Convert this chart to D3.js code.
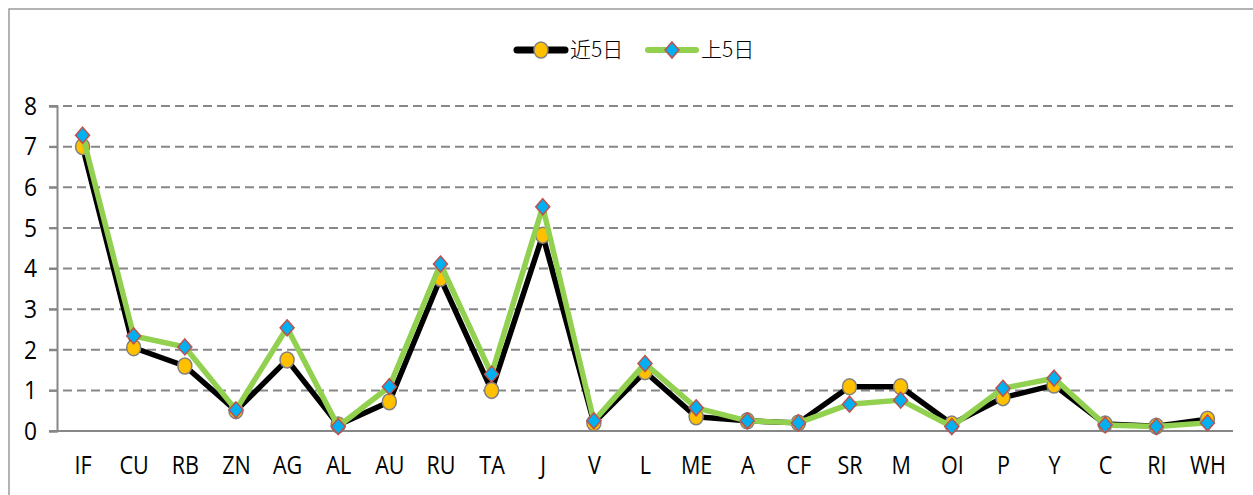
<!DOCTYPE html>
<meta charset="utf-8">
<style>

    body {
        margin: 0;
        background: #fff;
    }

    .grid line {
        stroke: #878787;
        stroke-width: 2px;
        stroke-dasharray: 9, 5;
    }

    .axis text {
        font-family: "Liberation Sans Narrow", "Open Sans", sans-serif;
        font-size: 24px;
        fill: #000;
    }

    .legend text {
        font-family: "Noto Sans CJK SC", sans-serif;
        font-size: 21px;
        font-weight: 300;
        fill: #000;
    }

</style>
<svg width="1253" height="495"></svg>
<script src="https://d3js.org/d3.v7.min.js"></script>
<script>

    var categories = ["IF", "CU", "RB", "ZN", "AG", "AL", "AU", "RU", "TA", "J", "V", "L",
        "ME", "A", "CF", "SR", "M", "OI", "P", "Y", "C", "RI", "WH"];

    // 近5日
    var recent = [7.0, 2.05, 1.6, 0.5, 1.75, 0.15, 0.72, 3.76, 1.0, 4.82, 0.2, 1.46,
        0.35, 0.25, 0.2, 1.09, 1.09, 0.17, 0.82, 1.13, 0.17, 0.12, 0.29];

    // 上5日
    var previous = [7.28, 2.34, 2.07, 0.52, 2.54, 0.11, 1.09, 4.11, 1.4, 5.52, 0.25, 1.66,
        0.57, 0.25, 0.2, 0.66, 0.76, 0.11, 1.05, 1.3, 0.15, 0.11, 0.2];

    var yTicks = [0, 1, 2, 3, 4, 5, 6, 7, 8];
    var seriesNames = ["近5日", "上5日"];

    var svg = d3.select("svg");

    // outer frame (right and bottom edges fall outside the picture)
    svg.append("rect")
        .attr("x", 9)
        .attr("y", 9)
        .attr("width", 1260)
        .attr("height", 500)
        .attr("fill", "none")
        .attr("stroke", "#9a9a9a")
        .attr("stroke-width", 1.5);

    var plotLeft = 57, plotRight = 1233, plotTop = 106, plotBottom = 431;

    var x = d3.scalePoint()
        .domain(categories)
        .range([plotLeft, plotRight])
        .padding(0.5);

    var y = d3.scaleLinear()
        .domain([0, 8])
        .range([plotBottom, plotTop]);

    // dashed gridlines
    svg.append("g")
        .attr("class", "grid")
        .selectAll("line")
        .data(yTicks.filter(function (d) { return d > 0; }))
        .enter().append("line")
        .attr("x1", plotLeft - 8)
        .attr("x2", plotRight)
        .attr("y1", function (d) { return y(d); })
        .attr("y2", function (d) { return y(d); });

    // y axis
    var yAxis = svg.append("g")
        .attr("class", "axis")
        .attr("transform", "translate(" + plotLeft + ",0)")
        .call(d3.axisLeft(y).tickValues(yTicks).tickSize(8).tickPadding(13).tickFormat(d3.format("d")));
    yAxis.select(".domain").attr("stroke", "#878787").attr("stroke-width", 2);
    yAxis.selectAll(".tick line").attr("stroke", "#878787").attr("stroke-width", 2);
    yAxis.selectAll(".tick text").attr("text-anchor", "middle").attr("x", -28)
        .attr("transform", "scale(0.95,1.08)");

    // x axis
    var xAxis = svg.append("g")
        .attr("class", "axis")
        .attr("transform", "translate(0," + plotBottom + ")")
        .call(d3.axisBottom(x).tickSize(0).tickPadding(24));
    xAxis.select(".domain").attr("d", "M" + (plotLeft - 8) + ",0H" + plotRight)
        .attr("stroke", "#878787").attr("stroke-width", 2);
    xAxis.selectAll(".tick text").attr("transform", "scale(0.9,1.05)");

    var line = d3.line()
        .x(function (d, i) { return x(categories[i]); })
        .y(function (d) { return y(d); });

    svg.append("path")
        .datum(recent)
        .attr("fill", "none")
        .attr("stroke", "#000")
        .attr("stroke-width", 5.5)
        .attr("stroke-linejoin", "round")
        .attr("d", line);

    svg.append("g")
        .selectAll("ellipse")
        .data(recent)
        .enter().append("ellipse")
        .attr("cx", function (d, i) { return x(categories[i]); })
        .attr("cy", function (d) { return y(d); })
        .attr("rx", 7)
        .attr("ry", 8)
        .attr("fill", "#FFC000")
        .attr("stroke", "#808080")
        .attr("stroke-width", 1.5);

    svg.append("path")
        .datum(previous)
        .attr("fill", "none")
        .attr("stroke", "#92D050")
        .attr("stroke-width", 5.5)
        .attr("stroke-linejoin", "round")
        .attr("d", line);

    var diamond = "M0,-8L7,0L0,8L-7,0Z";

    svg.append("g")
        .selectAll("path")
        .data(previous)
        .enter().append("path")
        .attr("d", diamond)
        .attr("transform", function (d, i) {
            return "translate(" + x(categories[i]) + "," + y(d) + ")";
        })
        .attr("fill", "#00B0F0")
        .attr("stroke", "#C0504D")
        .attr("stroke-width", 1.5);

    // legend
    var legend = svg.append("g").attr("class", "legend");
    var items = [
        {name: seriesNames[0], x0: 517, color: "#000", w: 7},
        {name: seriesNames[1], x0: 648, color: "#92D050", w: 6}
    ];
    var ly = 50;

    items.forEach(function (it, i) {
        legend.append("line")
            .attr("x1", it.x0)
            .attr("x2", it.x0 + 48)
            .attr("y1", ly)
            .attr("y2", ly)
            .attr("stroke", it.color)
            .attr("stroke-width", it.w)
            .attr("stroke-linecap", "round");
        if (i === 0) {
            legend.append("ellipse")
                .attr("cx", it.x0 + 24)
                .attr("cy", ly)
                .attr("rx", 7)
                .attr("ry", 8)
                .attr("fill", "#FFC000")
                .attr("stroke", "#808080")
                .attr("stroke-width", 1.5);
        } else {
            legend.append("path")
                .attr("d", diamond)
                .attr("transform", "translate(" + (it.x0 + 24) + "," + ly + ")")
                .attr("fill", "#00B0F0")
                .attr("stroke", "#C0504D")
                .attr("stroke-width", 1.5);
        }
        legend.append("text")
            .attr("x", it.x0 + 53)
            .attr("y", ly)
            .attr("dy", "0.35em")
            .text(it.name);
    });

</script>
